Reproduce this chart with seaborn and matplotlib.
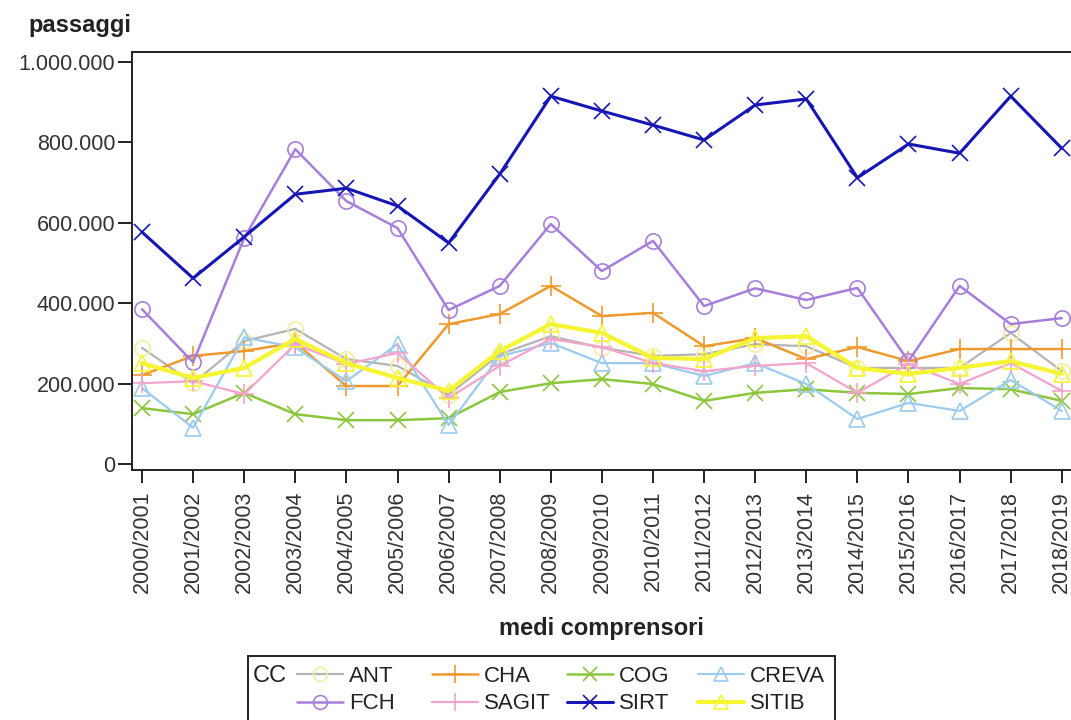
import matplotlib
matplotlib.use("Agg")
import matplotlib.pyplot as plt
import matplotlib.ticker as mticker
from matplotlib.patches import Rectangle
from matplotlib.lines import Line2D
import seaborn as sns
import pandas as pd

years = ["2000/2001", "2001/2002", "2002/2003", "2003/2004", "2004/2005", "2005/2006",
         "2006/2007", "2007/2008", "2008/2009", "2009/2010", "2010/2011", "2011/2012",
         "2012/2013", "2013/2014", "2014/2015", "2015/2016", "2016/2017", "2017/2018",
         "2018/2019"]

ANT = [289000, 201000, 306000, 336000, 261000, 244000, 172000, 273000, 318000, 289000,
       269000, 273000, 298000, 293000, 239000, 239000, 239000, 326000, 231000]
CHA = [221000, 269000, 281000, 302000, 194000, 194000, 348000, 373000, 443000, 368000,
       376000, 293000, 313000, 261000, 291000, 256000, 286000, 286000, 286000]
COG = [139000, 124000, 177000, 124000, 109000, 109000, 114000, 179000, 201000, 211000,
       199000, 157000, 177000, 186000, 177000, 174000, 189000, 186000, 157000]
CREVA = [189000, 90000, 315000, 290000, 206000, 298000, 97000, 268000, 301000, 251000,
         251000, 219000, 251000, 199000, 112000, 152000, 132000, 209000, 132000]
FCH = [385000, 253000, 562000, 783000, 654000, 587000, 383000, 443000, 597000, 480000,
       555000, 393000, 437000, 408000, 438000, 256000, 443000, 348000, 363000]
SAGIT = [201000, 206000, 174000, 298000, 249000, 276000, 164000, 244000, 311000, 291000,
         251000, 231000, 244000, 251000, 177000, 249000, 199000, 251000, 182000]
SIRT = [577000, 462000, 565000, 671000, 686000, 642000, 550000, 721000, 915000, 878000,
        843000, 806000, 893000, 908000, 712000, 796000, 773000, 915000, 785000]
SITIB = [251000, 214000, 239000, 311000, 251000, 214000, 182000, 281000, 348000, 326000,
         264000, 261000, 313000, 318000, 239000, 224000, 239000, 256000, 224000]

series = {"ANT": ANT, "CHA": CHA, "COG": COG, "CREVA": CREVA,
          "FCH": FCH, "SAGIT": SAGIT, "SIRT": SIRT, "SITIB": SITIB}

styles = {
    "ANT":   dict(color="#b4b4b4", marker="o", mec="#f3eea0", mfc="none", lw=1.6, ms=11),
    "CHA":   dict(color="#ef9a2e", marker="+", mec="#ef9a2e", mfc="none", lw=1.8, ms=14),
    "COG":   dict(color="#8cc63c", marker="x", mec="#8cc63c", mfc="none", lw=1.8, ms=11),
    "CREVA": dict(color="#9ccbee", marker="^", mec="#9ccbee", mfc="none", lw=1.6, ms=11),
    "FCH":   dict(color="#a77fdb", marker="o", mec="#a77fdb", mfc="none", lw=1.8, ms=11),
    "SAGIT": dict(color="#f4a4cc", marker="+", mec="#f4a4cc", mfc="none", lw=1.6, ms=14),
    "SIRT":  dict(color="#1616b4", marker="x", mec="#1616b4", mfc="none", lw=2.2, ms=11),
    "SITIB": dict(color="#f5f532", marker="^", mec="#f5f532", mfc="none", lw=3.0, ms=11),
}

sns.set_theme(style="ticks")
plt.rcParams["font.family"] = ["Liberation Sans", "DejaVu Sans"]

W, H = 1071, 720
fig = plt.figure(figsize=(W / 100, H / 100), dpi=100)
ax = fig.add_axes([132 / W, 1 - 470 / H, 1 - 132 / W, (470 - 52) / H])

x = list(range(len(years)))
for name, vals in series.items():
    st = styles[name]
    df = pd.DataFrame({"x": x, "y": vals})
    sns.lineplot(data=df, x="x", y="y", ax=ax, color=st["color"], linewidth=st["lw"],
                 marker=st["marker"], markersize=st["ms"], markeredgecolor=st["mec"],
                 markerfacecolor=st["mfc"], markeredgewidth=1.2, legend=False)

ax.set_xlim(-10 / 51.1, (W - 142) / 51.1)
ax.set_ylim(-(470 - 464) / 402 * 1e6, (464 - 52) / 402 * 1e6)
ax.set_xticks(x)
ax.set_xticklabels(years, rotation=90, fontsize=15.5, color="#333333")
ax.set_yticks([0, 200000, 400000, 600000, 800000, 1000000])
ax.yaxis.set_major_formatter(mticker.FuncFormatter(lambda v, p: f"{int(v):,}".replace(",", ".")))
ax.tick_params(axis="y", labelsize=15.5, labelcolor="#333333", color="#222222",
               length=10, width=1.4, pad=2)
ax.tick_params(axis="x", color="#222222", length=9, width=1.4, pad=6)
ax.spines["right"].set_visible(False)
for s in ["left", "bottom", "top"]:
    ax.spines[s].set_color("#222222")
    ax.spines[s].set_linewidth(1.4)
ax.set_xlabel("")
ax.set_ylabel("")
ax.grid(False)

fig.text(28 / W, 1 - 32 / H, "passaggi", fontsize=17, fontweight="bold",
         va="baseline", ha="left", color="#222222")
fig.text(601 / W, 1 - 635 / H, "medi comprensori", fontsize=17, fontweight="bold",
         va="baseline", ha="center", color="#222222")

# legend frame
fig.patches.append(Rectangle((248 / W, 1 - 725 / H), (835 - 248) / W, (725 - 656) / H,
                             transform=fig.transFigure, fill=False, edgecolor="#222222",
                             linewidth=1.4))
fig.text(253 / W, 1 - 676 / H, "CC", fontsize=17, va="center", ha="left", color="#222222")

columns = [(297, ["ANT", "FCH"]), (432, ["CHA", "SAGIT"]),
           (567, ["COG", "SIRT"]), (698, ["CREVA", "SITIB"])]
for xpx, names in columns:
    handles = []
    for name in names:
        st = styles[name]
        handles.append(Line2D([0], [0], color=st["color"], lw=st["lw"], marker=st["marker"],
                              markersize=st["ms"] - 1, markeredgecolor=st["mec"],
                              markerfacecolor=st["mfc"], markeredgewidth=1.2, label=name))
    leg = fig.legend(handles=handles, labels=names, ncol=1, frameon=False,
                     loc="center left", bbox_to_anchor=(xpx / W, 1 - 690 / H),
                     fontsize=16, handlelength=2.05, handletextpad=0.28,
                     labelspacing=0.3, borderpad=0, borderaxespad=0)
    for t in leg.get_texts():
        t.set_color("#222222")

fig.savefig("out.png", dpi=100)
